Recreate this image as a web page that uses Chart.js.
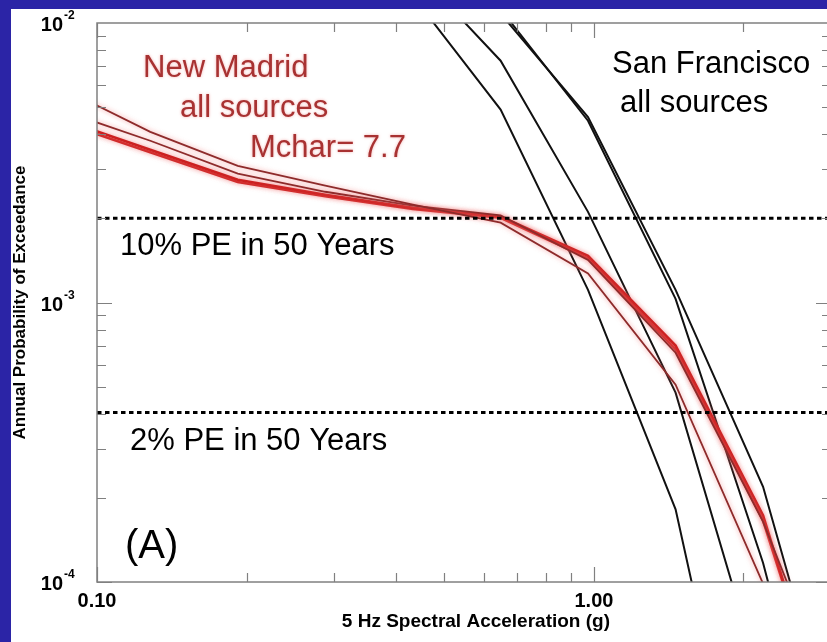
<!DOCTYPE html>
<html>
<head>
<meta charset="utf-8">
<script src="https://cdn.jsdelivr.net/npm/chart.js@4.4.1/dist/chart.umd.min.js"></script>
<style>
  html, body { margin: 0; padding: 0; width: 827px; height: 642px; overflow: hidden; background: #2b24a6; }
  #panel { position: absolute; left: 11px; top: 9px; width: 820px; height: 633px; background: #fff; }
  canvas { display: block; }
</style>
</head>
<body>
<div id="panel"><canvas id="hazard" width="820" height="633"></canvas></div>
<script>
// spectral acceleration levels of the hazard curves (g)
const accelLevels = [0.0854, 0.128, 0.192, 0.288, 0.432, 0.649, 0.973, 1.46, 2.19, 3.28];

// New Madrid, all sources, Mchar = 7.7
const newMadridA = [5.82e-3, 4.08e-3, 3.08e-3, 2.62e-3, 2.24e-3, 1.93e-3, 1.27e-3, 5.08e-4, 9.86e-5, 1.66e-5];
const newMadridB = [4.85e-3, 3.79e-3, 2.89e-3, 2.49e-3, 2.22e-3, 2.05e-3, 1.42e-3, 6.61e-4, 1.64e-4, 2.69e-5];
const newMadridC = [4.51e-3, 3.52e-3, 2.75e-3, 2.43e-3, 2.18e-3, 2.03e-3, 1.47e-3, 7.01e-4, 1.73e-4, 1.67e-5];
const newMadridD = [4.40e-3, 3.45e-3, 2.70e-3, 2.40e-3, 2.16e-3, 2.01e-3, 1.44e-3, 6.80e-4, 1.66e-4, 1.75e-5];

// San Francisco, all sources
const sanFrancisco1 = [null, null, null, null, 1.25e-2, 4.90e-3, 1.11e-3, 1.82e-4, 6.95e-6, null];
const sanFrancisco2 = [null, null, null, null, 1.58e-2, 7.33e-3, 2.11e-3, 4.76e-4, 4.16e-5, null];
const sanFrancisco3 = [null, null, null, null, 2.48e-2, 1.12e-2, 4.47e-3, 1.03e-3, 1.17e-4, 7.48e-6];
const sanFrancisco4 = [null, null, null, null, 2.44e-2, 1.08e-2, 4.61e-3, 1.11e-3, 2.19e-4, 1.73e-5];

// probability of exceedance levels
const pe10in50 = 0.002;
const pe2in50 = 0.000404;

// axis ranges and labelled ticks
const xRange = [0.1, 3.0];
const yRange = [1e-4, 1e-2];
const xTickLabels = [[0.1, "0.10"], [1, "1.00"]];
const yTickLabels = [[1e-2, "-2"], [1e-3, "-3"], [1e-4, "-4"]];

function toPoints(values) {
  return accelLevels.map((x, i) => ({ x: x, y: values[i] }));
}

function hLine(v) {
  return [{ x: xRange[0], y: v }, { x: xRange[1], y: v }];
}

const thinRed = "#8e2b2b";
const thickRed = "#cc2020";
const redGlow = "rgba(240,110,110,0.7)";

const datasets = [
  { data: hLine(pe10in50), borderColor: "#000", borderWidth: 3, borderDash: [4.5, 3.5] },
  { data: hLine(pe2in50), borderColor: "#000", borderWidth: 3, borderDash: [4.5, 3.5] },
  { data: toPoints(newMadridA), borderColor: thinRed, borderWidth: 1.8, glow: redGlow },
  { data: toPoints(newMadridB), borderColor: thinRed, borderWidth: 1.8, glow: redGlow },
  { data: toPoints(newMadridC), borderColor: thickRed, borderWidth: 2.6, glow: redGlow },
  { data: toPoints(newMadridD), borderColor: thickRed, borderWidth: 2.6, glow: redGlow },
  { data: toPoints(sanFrancisco1), borderColor: "#111", borderWidth: 2 },
  { data: toPoints(sanFrancisco2), borderColor: "#111", borderWidth: 2 },
  { data: toPoints(sanFrancisco3), borderColor: "#111", borderWidth: 2 },
  { data: toPoints(sanFrancisco4), borderColor: "#111", borderWidth: 2 }
];

// soft halo round the red curves
const glowPlugin = {
  id: "glow",
  beforeDatasetDraw(chart, args) {
    const ds = chart.data.datasets[args.index];
    if (!ds.glow) return;
    chart.ctx.save();
    chart.ctx.shadowColor = ds.glow;
    chart.ctx.shadowBlur = 5;
  },
  afterDatasetDraw(chart, args) {
    if (chart.data.datasets[args.index].glow) chart.ctx.restore();
  }
};

// box, inward ticks, tick labels, titles and notes
const framePlugin = {
  id: "frame",
  afterDatasetsDraw(chart) {
    const { ctx, chartArea: a, scales: { x, y } } = chart;
    ctx.save();

    ctx.strokeStyle = "#808080";
    ctx.lineWidth = 1.5;
    ctx.strokeRect(a.left, a.top, a.right - a.left, a.bottom - a.top);

    ctx.lineWidth = 1.2;
    ctx.beginPath();
    for (let d = -1; d <= 0; d++) {
      for (let m = 1; m <= 9; m++) {
        const v = m * Math.pow(10, d);
        if (v < xRange[0] || v > xRange[1] + 1e-9) continue;
        const px = Math.round(x.getPixelForValue(v)) + 0.5;
        const len = m === 1 ? 15 : 9;
        ctx.moveTo(px, a.bottom); ctx.lineTo(px, a.bottom - len);
        ctx.moveTo(px, a.top); ctx.lineTo(px, a.top + len);
      }
    }
    for (let d = -4; d <= -3; d++) {
      for (let m = 1; m <= 9; m++) {
        const v = m * Math.pow(10, d);
        const py = Math.round(y.getPixelForValue(v)) + 0.5;
        const len = m === 1 ? 15 : 9;
        ctx.moveTo(a.left, py); ctx.lineTo(a.left + len, py);
        ctx.moveTo(a.right, py); ctx.lineTo(a.right - len, py);
      }
    }
    ctx.stroke();

    // tick labels
    ctx.fillStyle = "#000";
    ctx.font = "bold 20px 'Liberation Sans', Arial, sans-serif";
    ctx.textAlign = "center";
    ctx.textBaseline = "alphabetic";
    xTickLabels.forEach(([v, t]) => ctx.fillText(t, x.getPixelForValue(v), a.bottom + 25));

    yTickLabels.forEach(([v, exp]) => {
      const py = y.getPixelForValue(v);
      ctx.font = "bold 20px 'Liberation Sans', Arial, sans-serif";
      ctx.textAlign = "right";
      ctx.fillText("10", 52, py + 8);
      ctx.font = "bold 12px 'Liberation Sans', Arial, sans-serif";
      ctx.textAlign = "left";
      ctx.fillText(exp, 53, py - 4);
    });

    // axis titles
    ctx.font = "bold 19px 'Liberation Sans', Arial, sans-serif";
    ctx.textAlign = "right";
    ctx.fillText("5 Hz Spectral Acceleration (g)", 599, 618);

    ctx.save();
    ctx.translate(9, (a.top + a.bottom) / 2);
    ctx.rotate(-Math.PI / 2);
    ctx.textAlign = "center";
    ctx.textBaseline = "middle";
    ctx.font = "bold 17px 'Liberation Sans', Arial, sans-serif";
    ctx.fillText("Annual Probability of Exceedance", 0, 0);
    ctx.restore();

    // notes inside the plot
    ctx.textAlign = "left";
    ctx.font = "31px 'Liberation Sans', Arial, sans-serif";
    ctx.save();
    ctx.fillStyle = "#a83232";
    ctx.shadowColor = "rgba(235,120,120,0.6)";
    ctx.shadowBlur = 3;
    ctx.fillText("New Madrid", 132, 68);
    ctx.fillText("all sources", 169, 108);
    ctx.fillText("Mchar= 7.7", 239, 148);
    ctx.restore();

    ctx.fillStyle = "#000";
    ctx.fillText("San Francisco", 601, 64);
    ctx.fillText("all sources", 609, 103);
    ctx.fillText("10% PE in 50 Years", 109, 246);
    ctx.fillText("2% PE in 50 Years", 119, 441);
    ctx.font = "40px 'Liberation Sans', Arial, sans-serif";
    ctx.fillText("(A)", 114, 549);

    ctx.restore();
  }
};

new Chart(document.getElementById("hazard"), {
  type: "line",
  data: { datasets: datasets },
  options: {
    responsive: false,
    devicePixelRatio: 1,
    animation: false,
    layout: { padding: { top: 14, left: 0, right: 0, bottom: 0 } },
    elements: { point: { radius: 0 }, line: { tension: 0 } },
    plugins: { legend: { display: false }, tooltip: { enabled: false } },
    scales: {
      x: {
        type: "logarithmic",
        min: xRange[0],
        max: xRange[1],
        ticks: { display: false },
        grid: { display: false },
        border: { display: false },
        afterFit: s => { s.height = 60; }
      },
      y: {
        type: "logarithmic",
        min: yRange[0],
        max: yRange[1],
        ticks: { display: false },
        grid: { display: false },
        border: { display: false },
        afterFit: s => { s.width = 86; }
      }
    }
  },
  plugins: [glowPlugin, framePlugin]
});
</script>
</body>
</html>
